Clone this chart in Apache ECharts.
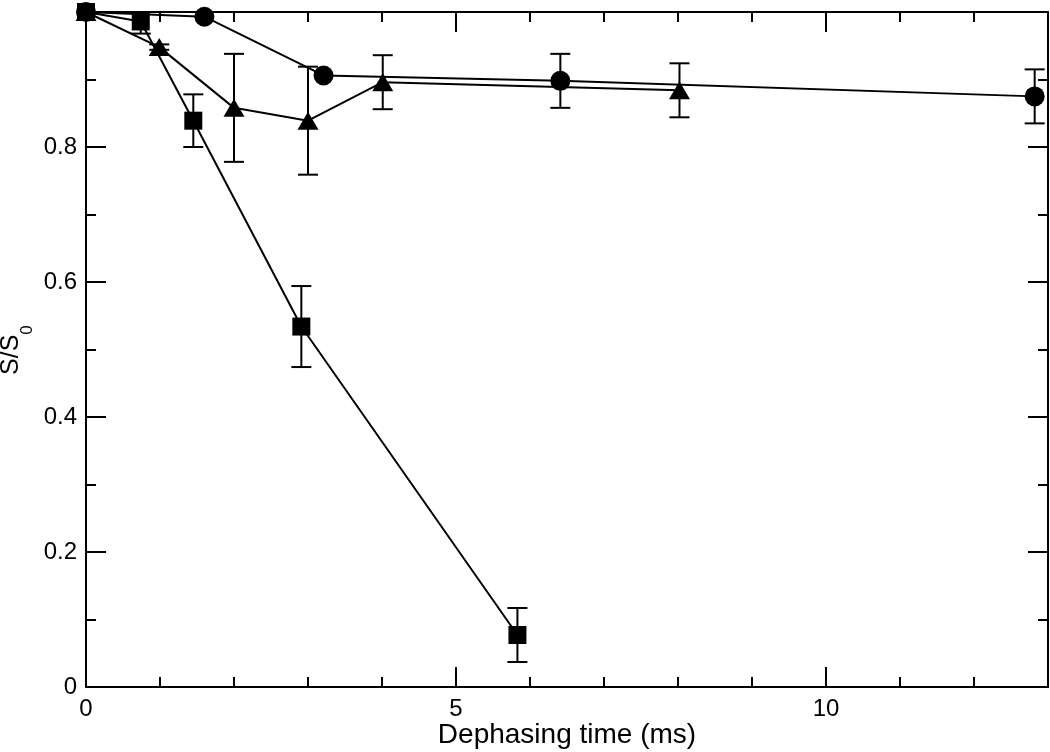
<!DOCTYPE html>
<html>
<head>
<meta charset="utf-8">
<script src="https://cdn.jsdelivr.net/npm/echarts@6/dist/echarts.min.js"></script>
<style>
html,body{margin:0;padding:0;background:#fff;}
#chart{width:1050px;height:752px;}
</style>
</head>
<body>
<div id="chart"></div>
<script>
// Data
const squareX   = [0, 0.74, 1.45, 2.91, 5.83];
const squareY   = [1.0, 0.986, 0.839, 0.534, 0.077];
const squareErr = [0.0, 0.018, 0.039, 0.060, 0.040];

const circleX   = [0, 1.6, 3.21, 6.41, 12.82];
const circleY   = [1.0, 0.993, 0.906, 0.898, 0.875];
const circleErr = [0.0, 0.0, 0.0, 0.040, 0.040];

const triX   = [0, 0.99, 2.0, 3.0, 4.01, 8.02];
const triY   = [1.0, 0.948, 0.858, 0.839, 0.896, 0.884];
const triErr = [0.0, 0.004, 0.080, 0.080, 0.040, 0.040];

const xTickLabels = ['0', '5', '10'];
const yTickLabels = ['0', '0.2', '0.4', '0.6', '0.8'];

const FONT = '"Liberation Sans", Arial, Helvetica, sans-serif';
const LW = 2;

function pts(xs, ys) { return xs.map((x, i) => [x, ys[i]]); }
function errPts(xs, ys, es) { return xs.map((x, i) => [x, ys[i], es[i]]); }

function errorSeries(data) {
  return {
    type: 'custom',
    xAxisIndex: 0, yAxisIndex: 0,
    silent: true,
    clip: true,
    z: 1,
    data: data,
    renderItem: function (params, api) {
      const x = api.value(0), y = api.value(1), e = api.value(2);
      if (!e) return null;
      const top = api.coord([x, y + e]);
      const bot = api.coord([x, y - e]);
      const hw = 10;
      const style = { stroke: '#000', lineWidth: LW };
      return {
        type: 'group',
        children: [
          { type: 'line', shape: { x1: top[0], y1: top[1], x2: bot[0], y2: bot[1] }, style: style },
          { type: 'line', shape: { x1: top[0] - hw, y1: top[1], x2: top[0] + hw, y2: top[1] }, style: style },
          { type: 'line', shape: { x1: bot[0] - hw, y1: bot[1], x2: bot[0] + hw, y2: bot[1] }, style: style }
        ]
      };
    }
  };
}

function lineSeries(data, symbol, size) {
  return {
    type: 'line',
    xAxisIndex: 0, yAxisIndex: 0,
    data: data,
    symbol: symbol,
    symbolSize: size,
    showAllSymbol: true,
    lineStyle: { color: '#000', width: LW },
    itemStyle: { color: '#000', borderWidth: 0 },
    z: 3,
    animation: false
  };
}

function axisCommon() {
  return {
    axisLine: { onZero: false, lineStyle: { color: '#000', width: LW } },
    axisTick: { inside: true, length: 20, lineStyle: { color: '#000', width: LW } },
    minorTick: { show: true, length: 10, lineStyle: { color: '#000', width: LW } },
    splitLine: { show: false },
    minorSplitLine: { show: false }
  };
}

const chart = echarts.init(document.getElementById('chart'), null, { renderer: 'canvas' });
chart.setOption({
  animation: false,
  backgroundColor: '#fff',
  grid: { left: 86, right: 2, top: 12, bottom: 65, containLabel: false, outerBoundsMode: 'none' },
  xAxis: [
    Object.assign(axisCommon(), {
      type: 'value', min: 0, max: 13, interval: 5, position: 'bottom',
      minorTick: { show: true, splitNumber: 5, length: 10, lineStyle: { color: '#000', width: LW } },
      axisLabel: {
        color: '#000', fontFamily: FONT, fontSize: 24, margin: 10,
        formatter: function (v) { const i = [0, 5, 10].indexOf(v); return i >= 0 ? xTickLabels[i] : ''; }
      },
      name: 'Dephasing time (ms)', nameLocation: 'middle', nameGap: 34, nameMoveOverlap: false,
      nameTextStyle: { color: '#000', fontFamily: FONT, fontSize: 28 }
    }),
    Object.assign(axisCommon(), {
      type: 'value', min: 0, max: 13, interval: 5, position: 'top',
      minorTick: { show: true, splitNumber: 5, length: 10, lineStyle: { color: '#000', width: LW } },
      axisLabel: { show: false }
    })
  ],
  yAxis: [
    Object.assign(axisCommon(), {
      type: 'value', min: 0, max: 1, interval: 0.2, position: 'left',
      minorTick: { show: true, splitNumber: 2, length: 10, lineStyle: { color: '#000', width: LW } },
      axisLabel: {
        color: '#000', fontFamily: FONT, fontSize: 24, margin: 9, showMaxLabel: false,
        formatter: function (v) { const i = Math.round(v / 0.2); return i < yTickLabels.length ? yTickLabels[i] : ''; }
      },
      name: '{a|S/S}{b|0}{c| }', nameLocation: 'middle', nameGap: 50, nameRotate: 90, nameMoveOverlap: false,
      nameTextStyle: {
        rich: {
          a: { color: '#000', fontFamily: FONT, fontSize: 25, lineHeight: 26, verticalAlign: 'top' },
          b: { color: '#000', fontFamily: FONT, fontSize: 17, lineHeight: 17, verticalAlign: 'bottom' },
          c: { color: '#000', fontFamily: FONT, fontSize: 4, lineHeight: 37, verticalAlign: 'bottom' }
        }
      }
    }),
    Object.assign(axisCommon(), {
      type: 'value', min: 0, max: 1, interval: 0.2, position: 'right',
      minorTick: { show: true, splitNumber: 2, length: 10, lineStyle: { color: '#000', width: LW } },
      axisLabel: { show: false }
    })
  ],
  series: [
    errorSeries(errPts(squareX, squareY, squareErr)),
    errorSeries(errPts(circleX, circleY, circleErr)),
    errorSeries(errPts(triX, triY, triErr)),
    lineSeries(pts(circleX, circleY), 'circle', 20),
    lineSeries(pts(triX, triY), 'triangle', [21, 18]),
    lineSeries(pts(squareX, squareY), 'rect', 18)
  ]
});
</script>
</body>
</html>
